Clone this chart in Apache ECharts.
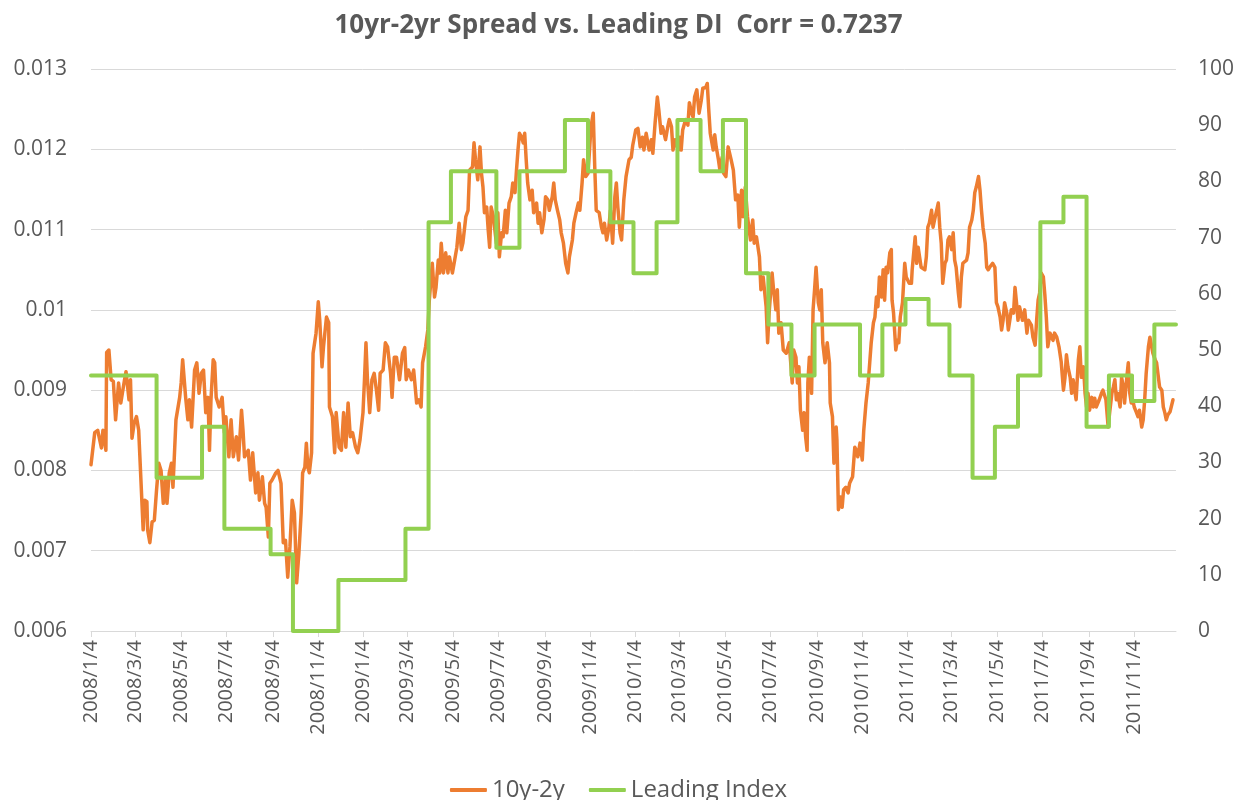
<!DOCTYPE html>
<html>
<head>
<meta charset="utf-8">
<title>10yr-2yr Spread vs. Leading DI</title>
<script src="https://cdn.jsdelivr.net/npm/echarts@6/dist/echarts.min.js"></script>
<style>
  html, body { margin: 0; padding: 0; background: #fff; }
  #main { width: 1237px; height: 800px; }
</style>
</head>
<body>
<div id="main"></div>
<script>
// x axis tick labels (every two months)
var tickLabels = ['2008/1/4', '2008/3/4', '2008/5/4', '2008/7/4', '2008/9/4', '2008/11/4',
    '2009/1/4', '2009/3/4', '2009/5/4', '2009/7/4', '2009/9/4', '2009/11/4',
    '2010/1/4', '2010/3/4', '2010/5/4', '2010/7/4', '2010/9/4', '2010/11/4',
    '2011/1/4', '2011/3/4', '2011/5/4', '2011/7/4', '2011/9/4', '2011/11/4'];

// 10y-2y spread
var spread = [
    ['2008-01-04', 0.00807], ['2008-01-09', 0.00847], ['2008-01-13', 0.0085], ['2008-01-18', 0.00828],
    ['2008-01-20', 0.0085], ['2008-01-24', 0.00825], ['2008-01-25', 0.00947], ['2008-01-28', 0.0095],
    ['2008-01-31', 0.00913], ['2008-02-03', 0.00911], ['2008-02-06', 0.00863], ['2008-02-10', 0.00909],
    ['2008-02-13', 0.00884], ['2008-02-18', 0.00913], ['2008-02-20', 0.00923], ['2008-02-24', 0.00888],
    ['2008-02-26', 0.00913], ['2008-02-28', 0.0084], ['2008-03-02', 0.00859], ['2008-03-05', 0.00867],
    ['2008-03-08', 0.0085], ['2008-03-11', 0.00788], ['2008-03-14', 0.00726], ['2008-03-16', 0.00763],
    ['2008-03-19', 0.00761], ['2008-03-20', 0.00726], ['2008-03-23', 0.0071], ['2008-03-26', 0.00736],
    ['2008-03-29', 0.00738], ['2008-04-01', 0.00776], ['2008-04-04', 0.00809], ['2008-04-07', 0.008],
    ['2008-04-10', 0.00759], ['2008-04-13', 0.00788], ['2008-04-15', 0.00759], ['2008-04-18', 0.00797],
    ['2008-04-21', 0.00809], ['2008-04-23', 0.00779], ['2008-04-27', 0.00863], ['2008-05-02', 0.00891],
    ['2008-05-04', 0.00909], ['2008-05-06', 0.00938], ['2008-05-08', 0.00938], ['2008-05-10', 0.00891],
    ['2008-05-13', 0.00863], ['2008-05-15', 0.00888], ['2008-05-18', 0.00854], ['2008-05-22', 0.00925],
    ['2008-05-25', 0.00934], ['2008-05-28', 0.00896], ['2008-05-31', 0.00921], ['2008-06-03', 0.00925],
    ['2008-06-06', 0.00872], ['2008-06-09', 0.00891], ['2008-06-11', 0.00825], ['2008-06-13', 0.00888],
    ['2008-06-16', 0.00938], ['2008-06-18', 0.00934], ['2008-06-20', 0.00891], ['2008-06-24', 0.00879],
    ['2008-06-28', 0.00891], ['2008-07-01', 0.00847], ['2008-07-03', 0.00867], ['2008-07-07', 0.00817],
    ['2008-07-10', 0.00863], ['2008-07-13', 0.00817], ['2008-07-17', 0.00842], ['2008-07-20', 0.00813],
    ['2008-07-24', 0.00875], ['2008-07-26', 0.0085], ['2008-07-28', 0.00817], ['2008-08-02', 0.00825],
    ['2008-08-05', 0.00788], ['2008-08-08', 0.00822], ['2008-08-12', 0.00772], ['2008-08-15', 0.00797],
    ['2008-08-17', 0.00763], ['2008-08-21', 0.00792], ['2008-08-24', 0.00759], ['2008-08-26', 0.00754],
    ['2008-08-29', 0.00717], ['2008-08-31', 0.00784], ['2008-09-03', 0.00788], ['2008-09-08', 0.00797],
    ['2008-09-11', 0.008], ['2008-09-15', 0.00784], ['2008-09-18', 0.0071], ['2008-09-21', 0.00713],
    ['2008-09-24', 0.00667], ['2008-09-27', 0.00705], ['2008-09-30', 0.00763], ['2008-10-03', 0.00747],
    ['2008-10-06', 0.0066], ['2008-10-09', 0.00697], ['2008-10-12', 0.00747], ['2008-10-14', 0.00797],
    ['2008-10-17', 0.00804], ['2008-10-19', 0.00834], ['2008-10-21', 0.00804], ['2008-10-23', 0.00797],
    ['2008-10-26', 0.00822], ['2008-10-28', 0.00946], ['2008-11-01', 0.00971], ['2008-11-04', 0.0101],
    ['2008-11-06', 0.00987], ['2008-11-09', 0.00929], ['2008-11-11', 0.00954], ['2008-11-15', 0.00991],
    ['2008-11-18', 0.00984], ['2008-11-19', 0.00879], ['2008-11-23', 0.00867], ['2008-11-26', 0.00822],
    ['2008-11-28', 0.00872], ['2008-12-02', 0.00829], ['2008-12-05', 0.00825], ['2008-12-08', 0.00872],
    ['2008-12-11', 0.00829], ['2008-12-14', 0.00884], ['2008-12-17', 0.00842], ['2008-12-20', 0.00847],
    ['2008-12-24', 0.00829], ['2008-12-27', 0.00822], ['2008-12-30', 0.00838], ['2009-01-03', 0.00872],
    ['2009-01-05', 0.00913], ['2009-01-07', 0.00959], ['2009-01-09', 0.00913], ['2009-01-12', 0.00872],
    ['2009-01-15', 0.00913], ['2009-01-18', 0.00921], ['2009-01-21', 0.009], ['2009-01-24', 0.00875],
    ['2009-01-26', 0.00921], ['2009-01-30', 0.00925], ['2009-02-02', 0.00959], ['2009-02-05', 0.00954],
    ['2009-02-09', 0.00921], ['2009-02-11', 0.00891], ['2009-02-14', 0.00941], ['2009-02-17', 0.00941],
    ['2009-02-21', 0.00913], ['2009-02-25', 0.00946], ['2009-02-28', 0.00953], ['2009-03-02', 0.00913],
    ['2009-03-05', 0.00925], ['2009-03-09', 0.00913], ['2009-03-12', 0.00925], ['2009-03-16', 0.00884],
    ['2009-03-19', 0.00888], ['2009-03-22', 0.00879], ['2009-03-24', 0.00934], ['2009-03-28', 0.00954],
    ['2009-03-31', 0.00975], ['2009-04-02', 0.01012], ['2009-04-06', 0.01058], ['2009-04-09', 0.01016],
    ['2009-04-11', 0.01028], ['2009-04-14', 0.01062], ['2009-04-16', 0.01046], ['2009-04-18', 0.01083],
    ['2009-04-21', 0.01046], ['2009-04-24', 0.01071], ['2009-04-27', 0.01046], ['2009-04-29', 0.01066],
    ['2009-05-03', 0.01046], ['2009-05-06', 0.01062], ['2009-05-09', 0.01078], ['2009-05-12', 0.01108],
    ['2009-05-15', 0.01075], ['2009-05-17', 0.01083], ['2009-05-21', 0.01116], ['2009-05-24', 0.01124],
    ['2009-05-26', 0.01174], ['2009-05-30', 0.01178], ['2009-06-01', 0.01208], ['2009-06-03', 0.01187],
    ['2009-06-06', 0.01162], ['2009-06-09', 0.01203], ['2009-06-11', 0.0117], ['2009-06-13', 0.01153],
    ['2009-06-15', 0.01121], ['2009-06-18', 0.01128], ['2009-06-20', 0.011], ['2009-06-22', 0.01078],
    ['2009-06-24', 0.01128], ['2009-06-27', 0.01116], ['2009-07-01', 0.01083], ['2009-07-03', 0.01121],
    ['2009-07-05', 0.01066], ['2009-07-08', 0.01096], ['2009-07-10', 0.01091], ['2009-07-13', 0.01124],
    ['2009-07-15', 0.01096], ['2009-07-18', 0.01133], ['2009-07-21', 0.01141], ['2009-07-23', 0.01158],
    ['2009-07-26', 0.01146], ['2009-07-28', 0.01174], ['2009-07-30', 0.01199], ['2009-08-01', 0.0122],
    ['2009-08-04', 0.01215], ['2009-08-06', 0.01208], ['2009-08-08', 0.0122], ['2009-08-10', 0.01187],
    ['2009-08-12', 0.01158], ['2009-08-15', 0.01137], ['2009-08-18', 0.01149], ['2009-08-20', 0.01121],
    ['2009-08-24', 0.01133], ['2009-08-26', 0.01108], ['2009-08-28', 0.01121], ['2009-08-31', 0.01096],
    ['2009-09-03', 0.01113], ['2009-09-05', 0.01141], ['2009-09-08', 0.01137], ['2009-09-10', 0.01124],
    ['2009-09-14', 0.01141], ['2009-09-16', 0.01158], ['2009-09-18', 0.01137], ['2009-09-21', 0.01124],
    ['2009-09-24', 0.01112], ['2009-09-26', 0.01096], ['2009-09-29', 0.01083], ['2009-10-02', 0.01058],
    ['2009-10-05', 0.01046], ['2009-10-07', 0.01066], ['2009-10-11', 0.01087], ['2009-10-13', 0.01108],
    ['2009-10-16', 0.01121], ['2009-10-19', 0.01133], ['2009-10-21', 0.01124], ['2009-10-24', 0.01158],
    ['2009-10-26', 0.01187], ['2009-10-29', 0.01166], ['2009-11-01', 0.0117], ['2009-11-03', 0.01199],
    ['2009-11-05', 0.01228], ['2009-11-08', 0.01245], ['2009-11-10', 0.01178], ['2009-11-12', 0.01124],
    ['2009-11-16', 0.01121], ['2009-11-19', 0.01103], ['2009-11-21', 0.01096], ['2009-11-23', 0.01108],
    ['2009-11-26', 0.01087], ['2009-11-29', 0.01103], ['2009-12-01', 0.01124], ['2009-12-04', 0.01083],
    ['2009-12-07', 0.01141], ['2009-12-09', 0.01158], ['2009-12-11', 0.01128], ['2009-12-14', 0.01096],
    ['2009-12-16', 0.01087], ['2009-12-19', 0.01137], ['2009-12-22', 0.01166], ['2009-12-26', 0.01187],
    ['2009-12-29', 0.0119], ['2009-12-31', 0.01205], ['2010-01-04', 0.01224], ['2010-01-07', 0.01226],
    ['2010-01-10', 0.01203], ['2010-01-13', 0.01215], ['2010-01-15', 0.01199], ['2010-01-18', 0.0122],
    ['2010-01-22', 0.01199], ['2010-01-25', 0.01212], ['2010-01-27', 0.01195], ['2010-01-30', 0.01233],
    ['2010-02-02', 0.01265], ['2010-02-04', 0.01249], ['2010-02-07', 0.0122], ['2010-02-09', 0.01228],
    ['2010-02-13', 0.01212], ['2010-02-16', 0.01228], ['2010-02-18', 0.01237], ['2010-02-21', 0.01228],
    ['2010-02-23', 0.01199], ['2010-02-26', 0.01212], ['2010-03-02', 0.01199], ['2010-03-04', 0.01215],
    ['2010-03-06', 0.01199], ['2010-03-08', 0.01224], ['2010-03-12', 0.01237], ['2010-03-15', 0.0123],
    ['2010-03-17', 0.01258], ['2010-03-20', 0.01245], ['2010-03-22', 0.0124], ['2010-03-24', 0.01265],
    ['2010-03-27', 0.01274], ['2010-03-30', 0.01245], ['2010-04-02', 0.01261], ['2010-04-04', 0.01276],
    ['2010-04-08', 0.01277], ['2010-04-10', 0.01282], ['2010-04-12', 0.01249], ['2010-04-14', 0.0122],
    ['2010-04-18', 0.01199], ['2010-04-20', 0.01218], ['2010-04-22', 0.01203], ['2010-04-25', 0.01187],
    ['2010-04-27', 0.01174], ['2010-04-30', 0.0119], ['2010-05-02', 0.0117], ['2010-05-05', 0.01166],
    ['2010-05-08', 0.01203], ['2010-05-10', 0.01203], ['2010-05-12', 0.01187], ['2010-05-15', 0.01174],
    ['2010-05-18', 0.01137], ['2010-05-21', 0.01143], ['2010-05-23', 0.01103], ['2010-05-26', 0.01149],
    ['2010-05-28', 0.01116], ['2010-05-31', 0.01153], ['2010-06-03', 0.01116], ['2010-06-07', 0.01087],
    ['2010-06-10', 0.01112], ['2010-06-12', 0.01083], ['2010-06-15', 0.01091], ['2010-06-19', 0.01066],
    ['2010-06-21', 0.01025], ['2010-06-24', 0.01041], ['2010-06-28', 0.01004], ['2010-06-30', 0.00959],
    ['2010-07-02', 0.00996], ['2010-07-06', 0.01046], ['2010-07-08', 0.01025], ['2010-07-11', 0.01],
    ['2010-07-13', 0.01025], ['2010-07-15', 0.00971], ['2010-07-18', 0.00984], ['2010-07-21', 0.0095],
    ['2010-07-25', 0.00946], ['2010-07-29', 0.00959], ['2010-07-31', 0.00934], ['2010-08-02', 0.00909],
    ['2010-08-04', 0.0095], ['2010-08-07', 0.00941], ['2010-08-09', 0.00909], ['2010-08-11', 0.00929],
    ['2010-08-13', 0.00875], ['2010-08-16', 0.0085], ['2010-08-18', 0.00872], ['2010-08-20', 0.00842],
    ['2010-08-22', 0.00825], ['2010-08-23', 0.00909], ['2010-08-25', 0.00941], ['2010-08-28', 0.00896],
    ['2010-08-30', 0.01], ['2010-09-01', 0.01025], ['2010-09-03', 0.01053], ['2010-09-06', 0.01009],
    ['2010-09-08', 0.01], ['2010-09-10', 0.01025], ['2010-09-12', 0.00959], ['2010-09-15', 0.00934],
    ['2010-09-18', 0.00959], ['2010-09-21', 0.00934], ['2010-09-22', 0.00884], ['2010-09-25', 0.00867],
    ['2010-09-27', 0.00809], ['2010-09-30', 0.00854], ['2010-10-01', 0.00838], ['2010-10-03', 0.00751],
    ['2010-10-06', 0.00767], ['2010-10-08', 0.00754], ['2010-10-10', 0.00776], ['2010-10-13', 0.00779],
    ['2010-10-16', 0.00772], ['2010-10-18', 0.00784], ['2010-10-22', 0.00792], ['2010-10-25', 0.00829],
    ['2010-10-27', 0.00825], ['2010-10-29', 0.00817], ['2010-11-01', 0.00834], ['2010-11-04', 0.00813],
    ['2010-11-06', 0.0085], ['2010-11-09', 0.00884], ['2010-11-12', 0.00909], ['2010-11-14', 0.00934],
    ['2010-11-16', 0.00959], ['2010-11-19', 0.00984], ['2010-11-21', 0.00991], ['2010-11-23', 0.01016],
    ['2010-11-25', 0.01004], ['2010-11-27', 0.01041], ['2010-11-30', 0.01016], ['2010-12-02', 0.0105],
    ['2010-12-04', 0.01012], ['2010-12-06', 0.01053], ['2010-12-08', 0.01046], ['2010-12-11', 0.01071],
    ['2010-12-13', 0.01075], ['2010-12-14', 0.01012], ['2010-12-16', 0.00996], ['2010-12-19', 0.0095],
    ['2010-12-21', 0.00962], ['2010-12-23', 0.00959], ['2010-12-25', 0.00991], ['2010-12-28', 0.01009],
    ['2010-12-31', 0.01058], ['2011-01-02', 0.01041], ['2011-01-06', 0.01033], ['2011-01-09', 0.01033],
    ['2011-01-10', 0.0105], ['2011-01-12', 0.0105], ['2011-01-14', 0.01091], ['2011-01-16', 0.01058],
    ['2011-01-18', 0.01078], ['2011-01-22', 0.01053], ['2011-01-27', 0.0105], ['2011-01-29', 0.01066],
    ['2011-01-31', 0.01103], ['2011-02-02', 0.01108], ['2011-02-05', 0.01124], ['2011-02-07', 0.01103],
    ['2011-02-09', 0.01112], ['2011-02-14', 0.01133], ['2011-02-16', 0.01103], ['2011-02-18', 0.01083],
    ['2011-02-20', 0.01033], ['2011-02-23', 0.01058], ['2011-02-25', 0.01062], ['2011-02-27', 0.01087],
    ['2011-03-01', 0.01091], ['2011-03-04', 0.01075], ['2011-03-06', 0.01096], ['2011-03-08', 0.01062],
    ['2011-03-10', 0.01053], ['2011-03-13', 0.01021], ['2011-03-15', 0.01004], ['2011-03-17', 0.01041],
    ['2011-03-19', 0.01058], ['2011-03-24', 0.01062], ['2011-03-26', 0.01071], ['2011-03-28', 0.01103],
    ['2011-03-31', 0.01112], ['2011-04-02', 0.01124], ['2011-04-04', 0.01146], ['2011-04-06', 0.01153],
    ['2011-04-09', 0.01166], ['2011-04-11', 0.01149], ['2011-04-13', 0.01124], ['2011-04-15', 0.01103],
    ['2011-04-18', 0.01083], ['2011-04-20', 0.01053], ['2011-04-22', 0.0105], ['2011-04-24', 0.01053],
    ['2011-04-28', 0.01058], ['2011-05-01', 0.01053], ['2011-05-03', 0.01009], ['2011-05-05', 0.01004],
    ['2011-05-08', 0.00991], ['2011-05-10', 0.00975], ['2011-05-12', 0.00987], ['2011-05-14', 0.01009],
    ['2011-05-17', 0.00996], ['2011-05-19', 0.00975], ['2011-05-21', 0.00987], ['2011-05-23', 0.01],
    ['2011-05-26', 0.00996], ['2011-05-28', 0.01028], ['2011-05-30', 0.01009], ['2011-06-01', 0.00987],
    ['2011-06-03', 0.01004], ['2011-06-07', 0.00987], ['2011-06-10', 0.01], ['2011-06-13', 0.00971],
    ['2011-06-15', 0.00987], ['2011-06-17', 0.00987], ['2011-06-19', 0.00981], ['2011-06-21', 0.00966],
    ['2011-06-24', 0.00956], ['2011-06-26', 0.00987], ['2011-06-28', 0.01012], ['2011-06-30', 0.01021],
    ['2011-07-02', 0.01046], ['2011-07-05', 0.01041], ['2011-07-07', 0.01019], ['2011-07-09', 0.00991],
    ['2011-07-11', 0.00954], ['2011-07-14', 0.00971], ['2011-07-16', 0.00966], ['2011-07-18', 0.00962],
    ['2011-07-20', 0.00971], ['2011-07-23', 0.00966], ['2011-07-26', 0.00954], ['2011-07-29', 0.00935],
    ['2011-08-01', 0.009], ['2011-08-03', 0.00915], ['2011-08-05', 0.00944], ['2011-08-07', 0.00929],
    ['2011-08-10', 0.00916], ['2011-08-12', 0.00896], ['2011-08-14', 0.00913], ['2011-08-18', 0.00888],
    ['2011-08-21', 0.00938], ['2011-08-23', 0.00954], ['2011-08-25', 0.00916], ['2011-08-28', 0.00929],
    ['2011-08-30', 0.00896], ['2011-09-01', 0.00879], ['2011-09-03', 0.00896], ['2011-09-05', 0.00875],
    ['2011-09-08', 0.00891], ['2011-09-10', 0.00879], ['2011-09-12', 0.0089], ['2011-09-14', 0.00879],
    ['2011-09-18', 0.00888], ['2011-09-21', 0.00896], ['2011-09-23', 0.009], ['2011-09-27', 0.00888],
    ['2011-09-30', 0.00854], ['2011-10-02', 0.00872], ['2011-10-05', 0.00896], ['2011-10-07', 0.00904],
    ['2011-10-09', 0.00913], ['2011-10-11', 0.00888], ['2011-10-13', 0.00896], ['2011-10-16', 0.00879],
    ['2011-10-18', 0.00916], ['2011-10-20', 0.00906], ['2011-10-22', 0.00884], ['2011-10-25', 0.00916],
    ['2011-10-27', 0.00934], ['2011-10-29', 0.00896], ['2011-10-31', 0.00884], ['2011-11-02', 0.00888],
    ['2011-11-04', 0.00879], ['2011-11-07', 0.00872], ['2011-11-09', 0.00867], ['2011-11-11', 0.00875],
    ['2011-11-14', 0.00854], ['2011-11-16', 0.00863], ['2011-11-18', 0.00888], ['2011-11-20', 0.00921],
    ['2011-11-23', 0.00954], ['2011-11-25', 0.00966], ['2011-11-27', 0.00956], ['2011-11-29', 0.00946],
    ['2011-12-02', 0.00938], ['2011-12-04', 0.00934], ['2011-12-06', 0.00919], ['2011-12-08', 0.00904],
    ['2011-12-11', 0.009], ['2011-12-13', 0.00879], ['2011-12-15', 0.00872], ['2011-12-17', 0.00863],
    ['2011-12-19', 0.00869], ['2011-12-22', 0.00873], ['2011-12-24', 0.00875], ['2011-12-26', 0.00888]
];

// Leading diffusion index, one value per month (held until next month)
var leading = [
    ['2008-01-04', 45.45], ['2008-02-01', 45.45], ['2008-03-01', 45.45], ['2008-04-01', 27.27],
    ['2008-05-01', 27.27], ['2008-06-01', 36.36], ['2008-07-01', 18.18], ['2008-08-01', 18.18],
    ['2008-09-01', 13.64], ['2008-10-01', 0], ['2008-11-01', 0], ['2008-12-01', 9.09],
    ['2009-01-01', 9.09], ['2009-02-01', 9.09], ['2009-03-01', 18.18], ['2009-04-01', 72.73],
    ['2009-05-01', 81.82], ['2009-06-01', 81.82], ['2009-07-01', 68.18], ['2009-08-01', 81.82],
    ['2009-09-01', 81.82], ['2009-10-01', 90.91], ['2009-11-01', 81.82], ['2009-12-01', 72.73],
    ['2010-01-01', 63.64], ['2010-02-01', 72.73], ['2010-03-01', 90.91], ['2010-04-01', 81.82],
    ['2010-05-01', 90.91], ['2010-06-01', 63.64], ['2010-07-01', 54.55], ['2010-08-01', 45.45],
    ['2010-09-01', 54.55], ['2010-10-01', 54.55], ['2010-11-01', 45.45], ['2010-12-01', 54.55],
    ['2011-01-01', 59.09], ['2011-02-01', 54.55], ['2011-03-01', 45.45], ['2011-04-01', 27.27],
    ['2011-05-01', 36.36], ['2011-06-01', 45.45], ['2011-07-01', 72.73], ['2011-08-01', 77.27],
    ['2011-09-01', 36.36], ['2011-10-01', 45.45], ['2011-11-01', 40.91], ['2011-12-01', 54.55],
    ['2011-12-30', 54.55]
];

var textColor = '#595959';
var font = '"Open Sans", "Liberation Sans", sans-serif';

// date axis: one category per calendar day, 2008/1/4 .. 2011/12/30
var days = [];
var dayIndex = {};
(function () {
    var d = new Date(2008, 0, 4);
    var end = new Date(2011, 11, 30);
    while (d <= end) {
        var y = d.getFullYear(), m = d.getMonth() + 1, dd = d.getDate();
        var iso = y + '-' + (m < 10 ? '0' : '') + m + '-' + (dd < 10 ? '0' : '') + dd;
        dayIndex[iso] = days.length;
        days.push(y + '/' + m + '/' + dd);
        d.setDate(d.getDate() + 1);
    }
})();

function toSeries(rows) {
    return rows.map(function (r) { return [dayIndex[r[0]], r[1]]; });
}

var tickSet = {};
tickLabels.forEach(function (t) { tickSet[t] = true; });
function isTick(idx, val) { return tickSet[val] === true; }

var chart = echarts.init(document.getElementById('main'));
var option = {
    animation: false,
    backgroundColor: '#fff',
    textStyle: { fontFamily: font },
    title: {
        text: '10yr-2yr Spread vs. Leading DI  Corr = 0.7237',
        left: 'center',
        top: 8,
        textStyle: { color: textColor, fontSize: 26, fontWeight: 'bold', fontFamily: font }
    },
    legend: {
        left: 'center',
        top: 773,
        itemWidth: 37,
        itemHeight: 4,
        itemGap: 24,
        icon: 'roundRect',
        textStyle: { color: textColor, fontSize: 24, fontFamily: font },
        data: ['10y-2y', 'Leading Index']
    },
    grid: { left: 91, right: 61, top: 69, bottom: 169 },
    xAxis: {
        type: 'category',
        data: days,
        boundaryGap: false,
        axisLine: { lineStyle: { color: '#d9d9d9', width: 1 } },
        axisTick: { show: true, interval: isTick, length: 6, lineStyle: { color: '#d9d9d9' } },
        axisLabel: {
            interval: isTick,
            rotate: 90,
            margin: 9,
            color: textColor,
            fontSize: 20,
            fontFamily: font
        },
        splitLine: { show: false }
    },
    yAxis: [{
        type: 'value',
        min: 0.006,
        max: 0.013,
        interval: 0.001,
        axisLine: { show: false },
        axisTick: { show: false },
        axisLabel: { color: textColor, fontSize: 21, fontFamily: font, margin: 24 },
        splitLine: { lineStyle: { color: '#d9d9d9', width: 1 } }
    }, {
        type: 'value',
        min: 0,
        max: 100,
        interval: 10,
        position: 'right',
        axisLine: { show: false },
        axisTick: { show: false },
        axisLabel: { color: textColor, fontSize: 21, fontFamily: font, margin: 22 },
        splitLine: { show: false }
    }],
    series: [{
        name: '10y-2y',
        type: 'line',
        yAxisIndex: 0,
        data: toSeries(spread),
        showSymbol: false,
        symbol: 'none',
        color: '#ED7D31',
        lineStyle: { color: '#ED7D31', width: 3.5, join: 'round', cap: 'round' }
    }, {
        name: 'Leading Index',
        type: 'line',
        yAxisIndex: 1,
        step: 'end',
        data: toSeries(leading),
        showSymbol: false,
        symbol: 'none',
        color: '#92D050',
        lineStyle: { color: '#92D050', width: 4, join: 'round', cap: 'round' }
    }]
};
chart.setOption(option);
window.addEventListener('resize', function () { chart.resize(); });
</script>
</body>
</html>
